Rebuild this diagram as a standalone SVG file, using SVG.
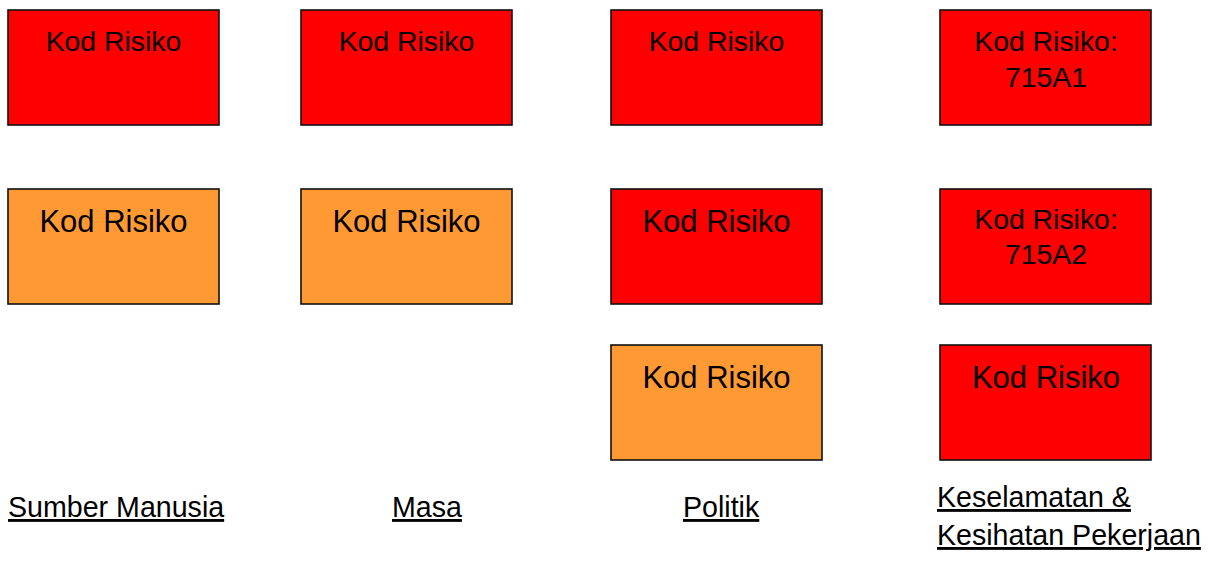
<svg xmlns="http://www.w3.org/2000/svg" width="1209" height="561" viewBox="0 0 1209 561">
<style>
.box{stroke:#111;stroke-width:1.6}
.red{fill:#FF0000}
.org{fill:#FF9933}
text{font-family:"Liberation Sans",Arial,sans-serif;fill:#000}
.t1{font-size:28.4px;text-anchor:middle}
.t2{font-size:31px;text-anchor:middle}
.lbl{font-size:28.6px;text-decoration:underline}
</style>
<rect width="1209" height="561" fill="#fff"/>
<g id="connectors"></g>
<g id="n-c1r1"><rect class="box red" x="8" y="10" width="211" height="115"/><text class="t1" x="113.5" y="51">Kod Risiko</text></g>
<g id="n-c2r1"><rect class="box red" x="301" y="10" width="211" height="115"/><text class="t1" x="406.5" y="51">Kod Risiko</text></g>
<g id="n-c3r1"><rect class="box red" x="611" y="10" width="211" height="115"/><text class="t1" x="716.5" y="51">Kod Risiko</text></g>
<g id="n-c4r1"><rect class="box red" x="940" y="10" width="211" height="115"/><text class="t1" x="1046" y="51">Kod Risiko:</text><text class="t1" x="1046" y="87">715A1</text></g>
<g id="n-c1r2"><rect class="box org" x="8" y="189" width="211" height="115"/><text class="t2" x="113.5" y="232">Kod Risiko</text></g>
<g id="n-c2r2"><rect class="box org" x="301" y="189" width="211" height="115"/><text class="t2" x="406.5" y="232">Kod Risiko</text></g>
<g id="n-c3r2"><rect class="box red" x="611" y="189" width="211" height="115"/><text class="t2" x="716.5" y="232">Kod Risiko</text></g>
<g id="n-c4r2"><rect class="box red" x="940" y="189" width="211" height="115"/><text class="t1" x="1046" y="229">Kod Risiko:</text><text class="t1" x="1046" y="264">715A2</text></g>
<g id="n-c3r3"><rect class="box org" x="611" y="345" width="211" height="115"/><text class="t2" x="716.5" y="388">Kod Risiko</text></g>
<g id="n-c4r3"><rect class="box red" x="940" y="345" width="211" height="115"/><text class="t2" x="1046" y="388">Kod Risiko</text></g>
<g id="l-sumber"><text class="lbl" x="8" y="517">Sumber Manusia</text></g>
<g id="l-masa"><text class="lbl" x="392" y="517">Masa</text></g>
<g id="l-politik"><text class="lbl" x="683" y="517">Politik</text></g>
<g id="l-keselamatan"><text class="lbl" x="937" y="507">Keselamatan &amp;</text><text class="lbl" x="937" y="545">Kesihatan Pekerjaan</text></g>
</svg>
